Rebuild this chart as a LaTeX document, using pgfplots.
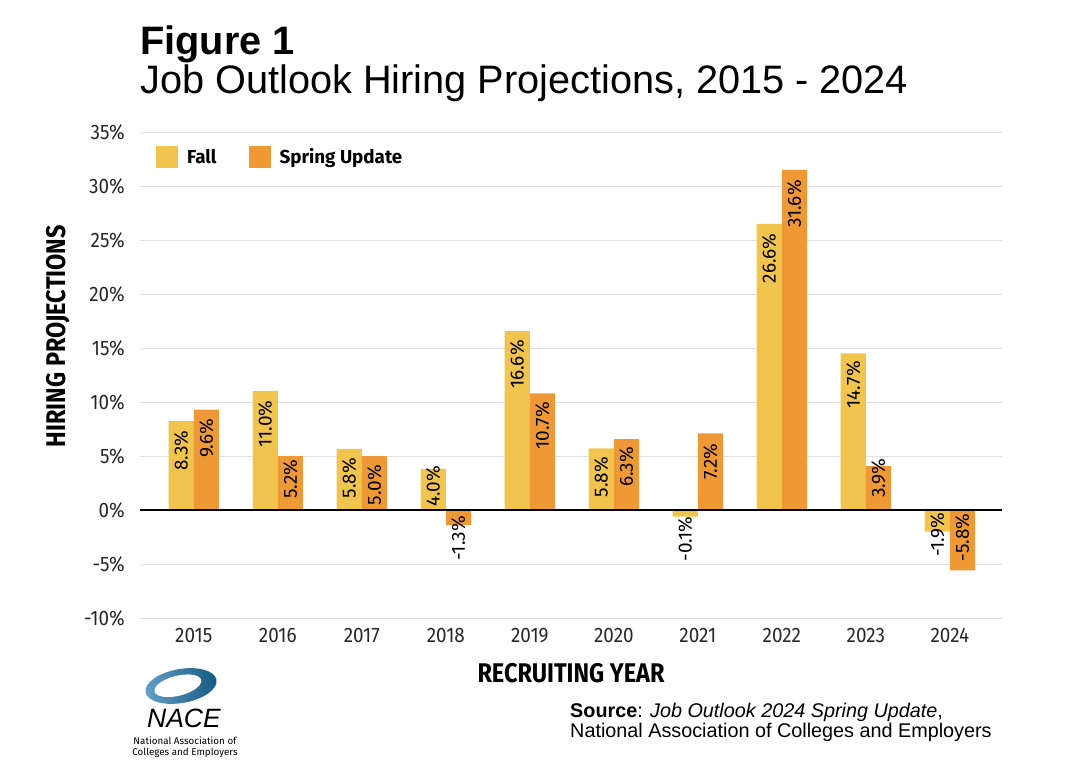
\documentclass[border=0pt]{standalone}
\usepackage{pgfplots}
\pgfplotsset{compat=1.18}
\usepackage{pgfplotstable}
\usepackage{fontspec}
\setmainfont{Liberation Sans}
\newfontfamily\plexfont{Fira Sans}
\newfontfamily\condfont[FakeStretch=0.9]{Fira Sans}
\newfontfamily\labfont[FakeStretch=0.87]{Fira Sans}
\definecolor{fallc}{RGB}{241,196,77}
\definecolor{springc}{RGB}{238,153,54}
\definecolor{gridc}{RGB}{224,224,224}
\definecolor{tickc}{RGB}{40,40,40}
\definecolor{logodark}{RGB}{22,88,130}
\definecolor{logolight}{RGB}{100,160,200}

% year, drawn bar height, printed label, top of label
\pgfplotstableread{
year y lab ly
2015 8.24 8.3 7.38
2016 11.04 11.0 10.16
2017 5.65 5.8 4.84
2018 3.8 4.0 4.1
2019 16.57 16.6 15.74
2020 5.71 5.8 4.93
2021 -0.62 -0.1 -0.62
2022 26.5 26.6 25.6
2023 14.5 14.7 13.8
2024 -2.0 -1.9 -0.21
}\falltable
\pgfplotstableread{
year y lab ly
2015 9.30 9.6 8.46
2016 5.0 5.2 4.7
2017 5.0 5.0 4.17
2018 -1.39 -1.3 -0.53
2019 10.8 10.7 10.03
2020 6.57 6.3 5.86
2021 7.1 7.2 6.17
2022 31.5 31.6 30.55
2023 4.07 3.9 4.78
2024 -5.6 -5.8 -0.31
}\springtable

\pgfplotsset{
  mybar/.style={ybar, bar width=0.3, bar shift=0pt, draw=none,
    legend image code/.code={\fill[##1, draw=none] (0pt,-11pt) rectangle (22pt,11pt);}},
  mylabels/.style={forget plot, draw=none, mark=none, point meta=explicit,
    nodes near coords={\pgfmathprintnumber[fixed,fixed zerofill,precision=1,assume math mode=true]{\pgfplotspointmeta}\%},
    every node near coord/.style={rotate=90, anchor=east, inner sep=0pt,
      font=\plexfont\fontsize{19}{19}\selectfont, text=black}},
}

\begin{document}
\begin{tikzpicture}
\path[use as bounding box] (0,0) rectangle (1080pt,-783pt);
\node[anchor=base west, inner sep=0pt, font=\fontsize{39.7}{44}\selectfont\bfseries] at (140pt,-55pt) {Figure 1};
\node[anchor=base west, inner sep=0pt, font=\fontsize{39.7}{44}\selectfont] at (140pt,-94pt) {Job Outlook Hiring Projections, 2015 - 2024};

\begin{axis}[
  at={(140pt,-618pt)}, anchor=south west,
  scale only axis, width=862pt, height=486pt,
  xmin=2014.36, xmax=2024.62, ymin=-10, ymax=35,
  axis line style={draw=none},
  major tick style={draw=none},
  ytick={-10,-5,0,5,10,15,20,25,30,35},
  yticklabels={-10\%,-5\%,0\%,5\%,10\%,15\%,20\%,25\%,30\%,35\%},
  xtick={2015,2016,2017,2018,2019,2020,2021,2022,2023,2024},
  xticklabels={2015,2016,2017,2018,2019,2020,2021,2022,2023,2024},
  ymajorgrids, major grid style={gridc, line width=1pt},
  yticklabel style={font=\condfont\fontsize{21}{21}\selectfont, text=tickc, inner sep=0pt, xshift=-15pt, anchor=east},
  xticklabel style={font=\condfont\fontsize{21}{21}\selectfont, text=tickc, inner sep=0pt, yshift=-10pt, anchor=north},
  xlabel={RECRUITING YEAR}, ylabel={HIRING PROJECTIONS},
  xlabel style={at={(axis description cs:0.5,-0.1337)}, anchor=base, inner sep=0pt, font=\labfont\bfseries\fontsize{27}{28}\selectfont},
  ylabel style={at={(axis description cs:-0.0951,0.58)}, anchor=center, inner sep=0pt, font=\labfont\bfseries\fontsize{27}{28}\selectfont},
  legend style={at={(axis description cs:0.0186,0.9486)}, anchor=west, draw=none, fill=none,
    inner sep=0pt, legend columns=2, font=\plexfont\bfseries\fontsize{18.8}{19}\selectfont,
    /tikz/every odd column/.style={column sep=7pt},
    /tikz/every even column/.style={column sep=30pt}},
  legend cell align=left,
]
\addplot[mybar, fill=fallc] table[x expr=\thisrow{year}-0.15, y=y] {\falltable};
\addlegendentry{Fall}
\addplot[mybar, fill=springc] table[x expr=\thisrow{year}+0.15, y=y] {\springtable};
\addlegendentry{Spring Update}
\addplot[mylabels] table[x expr=\thisrow{year}-0.15, y=ly, meta=lab] {\falltable};
\addplot[mylabels] table[x expr=\thisrow{year}+0.15, y=ly, meta=lab] {\springtable};
\draw[black, line width=1.4pt] (axis cs:2014.36,0) -- (axis cs:2024.62,0);
\end{axis}

% NACE logo
\begin{scope}[shift={(181pt,-686pt)}]
  \shade[left color=logolight, right color=logodark, rotate=10] (0,0) ellipse (36pt and 17pt);
  \fill[white, rotate=14] (-3pt,1pt) ellipse (24pt and 10pt);
\end{scope}
\node[anchor=base, inner sep=0pt, font=\fontsize{26.5}{27}\selectfont\itshape] at (184pt,-727pt) {NACE};
\node[anchor=base, inner sep=0pt, font=\plexfont\fontsize{9.8}{10}\selectfont] at (185pt,-744pt) {National Association of};
\node[anchor=base, inner sep=0pt, font=\plexfont\fontsize{9.8}{10}\selectfont] at (185pt,-755pt) {Colleges and Employers};

% source
\node[anchor=base west, inner sep=0pt, font=\fontsize{19.8}{20}\selectfont] at (570pt,-717pt) {\textbf{Source}: \textit{Job Outlook 2024 Spring Update},};
\node[anchor=base west, inner sep=0pt, font=\fontsize{19.8}{20}\selectfont] at (570pt,-737pt) {National Association of Colleges and Employers};
\end{tikzpicture}
\end{document}
